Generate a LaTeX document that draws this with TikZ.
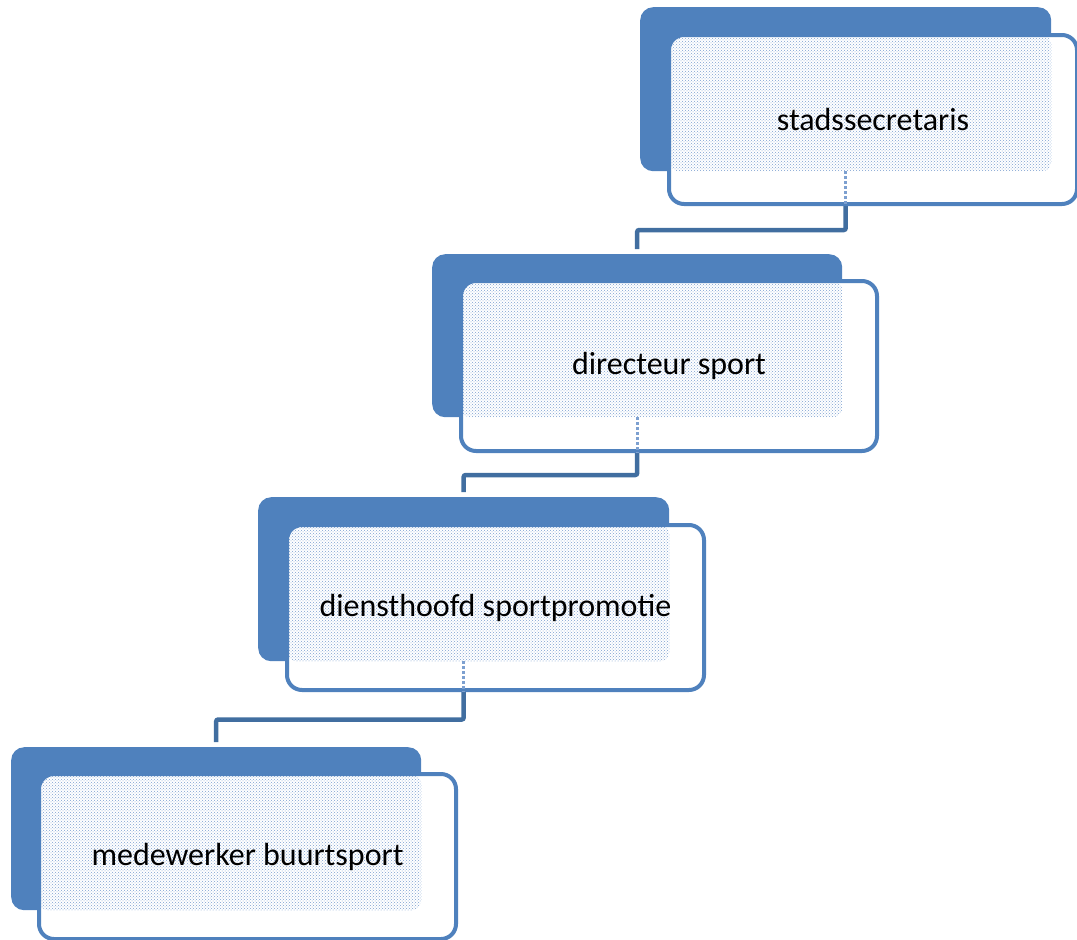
\documentclass[tikz,border=0pt]{standalone}
\usepackage{fontspec}
\setmainfont{Carlito}
\usetikzlibrary{patterns, backgrounds, calc}

\definecolor{boxblue}{RGB}{79,129,189}
\definecolor{linkblue}{RGB}{65,110,160}
\definecolor{dotblue}{RGB}{125,160,208}

\tikzset{
  backbox/.style={rectangle, rounded corners=13pt, fill=boxblue, inner sep=0pt, anchor=north west},
  frontbox/.style={rectangle, rounded corners=15pt, draw=boxblue, line width=4pt, fill=white,
    inner sep=0pt, anchor=north west, font=\fontsize{32}{36}\selectfont,
    path picture={\fill[pattern=crosshatch dots, pattern color=dotblue, rounded corners=10pt]
      (path picture bounding box.north west) rectangle (#1.south east);}},
  link/.style={draw=linkblue, line width=4.5pt, rounded corners=2pt, shorten >=5pt},
  ghost/.style={draw=dotblue, line width=3pt, dotted}
}

\begin{document}
\begin{tikzpicture}[x=1pt, y=-1pt]
\useasboundingbox (0,0) rectangle (1077,940);

% levels, top right to bottom left
\node[backbox, minimum width=411pt, minimum height=164pt] (b1) at (640,7) {};
\node[frontbox=b1, minimum width=408pt, minimum height=169pt] (f1) at (667,33) {stadssecretaris};

\node[backbox, minimum width=410pt, minimum height=163pt] (b2) at (432,254) {};
\node[frontbox=b2, minimum width=416pt, minimum height=170pt] (f2) at (459,279) {directeur sport};

\node[backbox, minimum width=411pt, minimum height=164pt] (b3) at (258,497) {};
\node[frontbox=b3, minimum width=417pt, minimum height=165pt] (f3) at (285,523) {diensthoofd sportpromotie};

\node[backbox, minimum width=410pt, minimum height=163pt] (b4) at (11,747) {};
\node[frontbox=b4, minimum width=417pt, minimum height=165pt] (f4) at (37,772) {medewerker buurtsport};

\coordinate (m1) at ($(f1.south)!0.5!(b2.north)$);
\coordinate (m2) at ($(f2.south)!0.5!(b3.north)$);
\coordinate (m3) at ($(f3.south)!0.5!(b4.north)$);

\begin{scope}[on background layer]
\draw[link] (b1.south) |- (m1) -| (b2.north);
\draw[link] (b2.south) |- (m2) -| (b3.north);
\draw[link] (b3.south) |- (m3) -| (b4.north);
\end{scope}

\draw[ghost] (b1.south) -- (b1.south |- f1.south);
\draw[ghost] (b2.south) -- (b2.south |- f2.south);
\draw[ghost] (b3.south) -- (b3.south |- f3.south);

\end{tikzpicture}
\end{document}
